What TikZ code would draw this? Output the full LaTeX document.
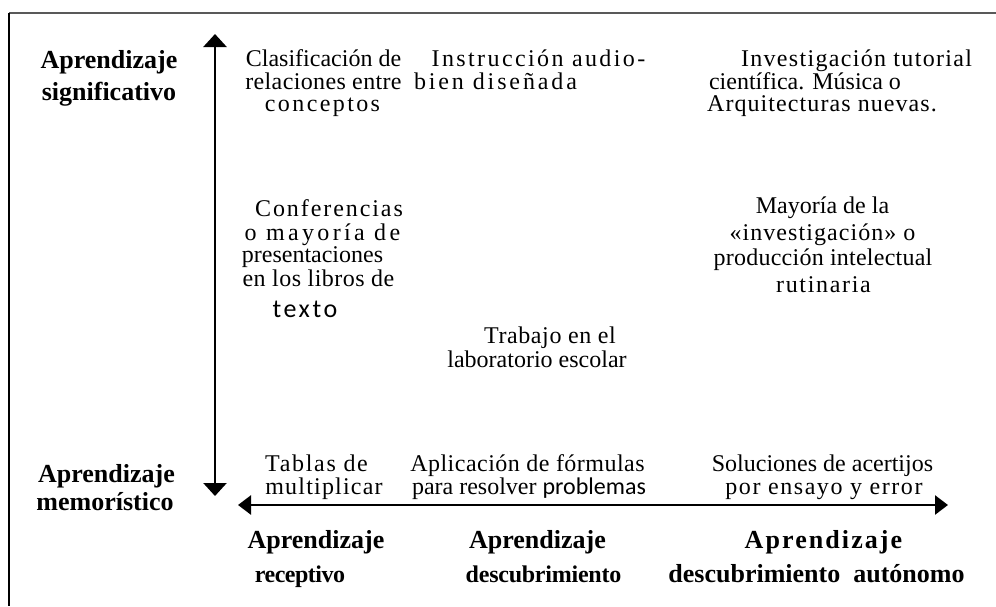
\documentclass[tikz,border=0pt]{standalone}
\usepackage{fontspec}
\setmainfont{Liberation Serif}
\newfontfamily\calib{Carlito}
\usetikzlibrary{arrows.meta}
\newcommand\lsp[2]{{\addfontfeature{LetterSpace=#1}#2}}
\begin{document}
\begin{tikzpicture}[x=1pt,y=-1pt,
  t/.style={inner sep=0pt, anchor=base, text height=15pt, text depth=3pt, font=\fontsize{24}{24}\selectfont},
  b/.style={inner sep=0pt, anchor=base, text height=17pt, text depth=4pt, font=\fontsize{26}{26}\selectfont\bfseries},
  vaxis/.style={line width=2.6pt, -{Triangle[length=13pt,width=23pt]}},
  haxis/.style={line width=2.6pt, -{Triangle[length=13pt,width=19pt]}}]
\useasboundingbox (0,0) rectangle (996,606);
\coordinate (tl) at (9,13);
\coordinate (tr) at (996,13);
\coordinate (bl) at (9,606);
\draw[line width=2pt, black!65] (tl) -- (tr);
\draw[line width=1.4pt] (tl) -- (bl);
% axes
\coordinate (vm) at (215,260);
\coordinate (vt) at (215,34);
\coordinate (vd) at (215,496);
\draw[vaxis] (vm) -- (vt);
\draw[vaxis] (vm) -- (vd);
\coordinate (hm) at (593,505);
\coordinate (hl) at (238,505);
\coordinate (hr) at (948,505);
\draw[haxis] (hm) -- (hl);
\draw[haxis] (hm) -- (hr);
% axis labels
\node[b] (siga) at (109,68) {Aprendizaje};
\node[b] (sigb) at (109,100) {significativo};
\node[b] (mema) at (106.5,482) {Aprendizaje};
\node[b] (memb) at (105,510) {memorístico};
\node[b] (reca) at (316,548) {Aprendizaje};
\node[b, font=\fontsize{24}{24}\selectfont\bfseries] (recb) at (300,582) {\lsp{-2}{receptivo}};
\node[b] (desa) at (537.5,548) {Aprendizaje};
\node[b, font=\fontsize{24}{24}\selectfont\bfseries] (desb) at (543.5,582) {\lsp{-1}{descubrimiento}};
\node[b] (auta) at (823.5,548) {\lsp{8}{Aprendizaje}};
\node[b] (autb) at (816.5,582) {descubrimiento\ \ autónomo};
% cells
\node[t] (c11a) at (323.5,66) {Clasificación de};
\node[t] (c11b) at (323.5,89) {\lsp{1.5}{relaciones entre}};
\node[t] (c11c) at (322.5,111) {\lsp{10}{conceptos}};
\node[t] (c12a) at (538.5,66) {\lsp{10}{Instrucción audio-}};
\node[t] (c12b) at (495.5,89) {\lsp{12}{bien diseñada}};
\node[t] (c13a) at (856.5,66) {\lsp{5.5}{Investigación tutorial}};
\node[t] (c13b) at (805,89) {científica. Música o};
\node[t] (c13c) at (822,111) {\lsp{4.5}{Arquitecturas nuevas.}};
\node[t] (c21a) at (329,216) {\lsp{8}{Conferencias}};
\node[t] (c21b) at (322.5,240) {\lsp{14}{o mayoría de}};
\node[t] (c21c) at (312.5,262) {presentaciones};
\node[t] (c21d) at (318.5,286) {\lsp{2}{en los libros de}};
\node[t, font=\fontsize{26}{26}\selectfont] (c21e) at (305,317) {\calib\lsp{10}{texto}};
\node[t] (c23a) at (822.5,213) {Mayoría de la};
\node[t] (c23b) at (822.5,240) {\lsp{4.4}{«investigación» o}};
\node[t] (c23c) at (823,265) {\lsp{1}{producción intelectual}};
\node[t] (c23d) at (823.5,292) {\lsp{7}{rutinaria}};
\node[t] (c32a) at (550,343) {\lsp{2.5}{Trabajo en el}};
\node[t] (c32b) at (537,367) {laboratorio escolar};
\node[t] (b1a) at (316.5,471) {\lsp{7}{Tablas de}};
\node[t] (b1b) at (324,494) {\lsp{5}{multiplicar}};
\node[t] (b2a) at (527.5,471) {\lsp{2}{Aplicación de fórmulas}};
\node[t] (b2b) at (529,494) {para resolver {\calib problemas}};
\node[t] (b3a) at (822.5,471) {Soluciones de acertijos};
\node[t] (b3b) at (824,494) {\lsp{6.5}{por ensayo y error}};
\end{tikzpicture}
\end{document}
